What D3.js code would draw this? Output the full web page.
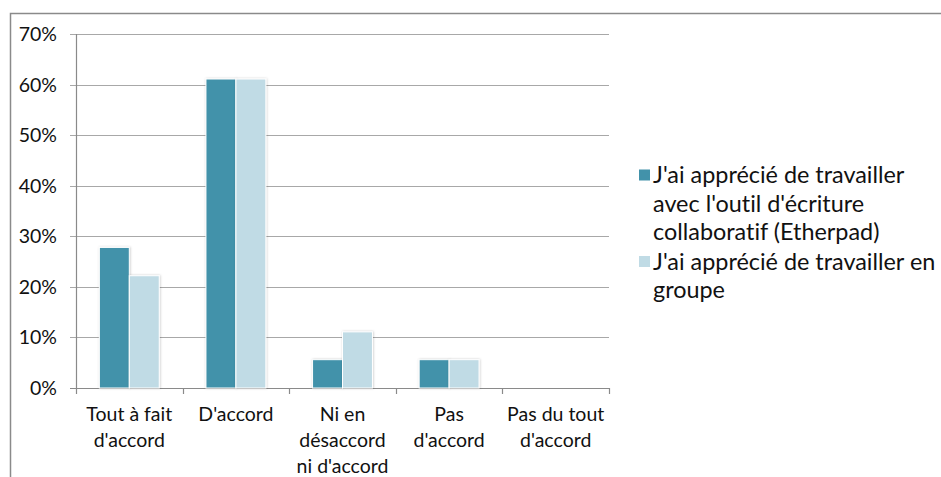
<!DOCTYPE html>
<html>
<head>
<meta charset="utf-8">
<script src="https://cdn.jsdelivr.net/npm/d3@7"></script>
<style>
  html, body { margin: 0; padding: 0; background: #fff; }
  svg { display: block; font-family: Lato, 'Liberation Sans', sans-serif; font-variant-ligatures: none; }
</style>
</head>
<body>
<svg id="chart" width="941" height="477"></svg>
<script>
// categories (x axis), lines split for wrapping
const categories = ["Tout à fait d'accord", "D'accord", "Ni en désaccord ni d'accord", "Pas d'accord", "Pas du tout d'accord"];
const categoryLines = [["Tout à fait", "d'accord"], ["D'accord"], ["Ni en", "désaccord", "ni d'accord"], ["Pas", "d'accord"], ["Pas du tout", "d'accord"]];

// series
const seriesNames = ["J'ai apprécié de travailler avec l'outil d'écriture collaboratif (Etherpad)", "J'ai apprécié de travailler en groupe"];
const seriesLegendLines = [["J'ai apprécié de travailler", "avec l'outil d'écriture", "collaboratif (Etherpad)"], ["J'ai apprécié de travailler en", "groupe"]];
const etherpadValues = [0.278, 0.611, 0.056, 0.056, 0];
const groupeValues = [0.222, 0.611, 0.111, 0.056, 0];
const yTicks = [0, 0.1, 0.2, 0.3, 0.4, 0.5, 0.6, 0.7];

const colors = ['#4292aa', '#c0dbe5'];

const margin = { left: 76, right: 332, top: 34, bottom: 89 };
const width = 941, height = 477;

const svg = d3.select('#chart');

const defs = svg.append('defs');
defs.append('filter')
  .attr('id', 'shadow')
  .attr('x', '-20%').attr('y', '-20%').attr('width', '140%').attr('height', '140%')
  .append('feDropShadow')
  .attr('dx', 0.5).attr('dy', 0).attr('stdDeviation', 1)
  .attr('flood-color', '#000').attr('flood-opacity', 0.22);

// chart border (left + top only visible)
svg.append('path')
  .attr('d', `M10.5,${height} V13.5 H${width}`)
  .attr('fill', 'none')
  .attr('stroke', '#8a8a8a')
  .attr('stroke-width', 1.5);

const x0 = d3.scaleBand()
  .domain(categories)
  .range([margin.left, width - margin.right])
  .paddingInner(0).paddingOuter(0);

const x1 = d3.scaleBand()
  .domain([0, 1])
  .range([0, x0.bandwidth()])
  .paddingInner(0).paddingOuter(0.78);

const y = d3.scaleLinear()
  .domain([0, 0.7])
  .range([height - margin.bottom, margin.top]);

// grid lines
svg.append('g')
  .selectAll('line')
  .data(yTicks)
  .enter()
  .append('line')
  .attr('x1', margin.left - 6)
  .attr('x2', width - margin.right)
  .attr('y1', (d) => Math.round(y(d)) + 0.5)
  .attr('y2', (d) => Math.round(y(d)) + 0.5)
  .attr('stroke', (d) => (d === 0 ? '#8a8a8a' : '#a8a8a8'))
  .attr('stroke-width', 1.2);

// y axis labels
svg.append('g')
  .selectAll('text')
  .data(yTicks)
  .enter()
  .append('text')
  .attr('x', 57)
  .attr('y', (d) => y(d))
  .attr('dy', '0.36em')
  .attr('text-anchor', 'end')
  .attr('fill', '#111')
  .style('font-size', '19.5px')
  .text(d3.format('.0%'));

// y axis line
svg.append('line')
  .attr('x1', margin.left + 0.5).attr('x2', margin.left + 0.5)
  .attr('y1', y(0.7)).attr('y2', y(0) + 6)
  .attr('stroke', '#8a8a8a')
  .attr('stroke-width', 1.2);

// category tick marks
const tickPos = categories.map((c) => x0(c)).concat([x0(categories[categories.length - 1]) + x0.bandwidth()]);
svg.append('g')
  .selectAll('line')
  .data(tickPos.slice(1))
  .enter()
  .append('line')
  .attr('x1', (d) => Math.round(d) + 0.5)
  .attr('x2', (d) => Math.round(d) + 0.5)
  .attr('y1', y(0))
  .attr('y2', y(0) + 6)
  .attr('stroke', '#8a8a8a')
  .attr('stroke-width', 1.2);

// bars
const seriesData = [etherpadValues, groupeValues];
seriesData.forEach((values, si) => {
  svg.append('g')
    .selectAll('rect')
    .data(values.map((v, i) => ({ cat: categories[i], v: v })).filter((d) => d.v > 0))
    .enter()
    .append('rect')
    .attr('x', (d) => x0(d.cat) + x1(si))
    .attr('y', (d) => y(d.v))
    .attr('width', x1.bandwidth())
    .attr('height', (d) => y(0) - y(d.v))
    .attr('fill', colors[si])
    .attr('stroke', '#fff')
    .attr('stroke-width', 1)
    .attr('filter', 'url(#shadow)');
});

// category labels
const catLabels = svg.append('g')
  .selectAll('text')
  .data(categories)
  .enter()
  .append('text')
  .attr('text-anchor', 'middle')
  .attr('fill', '#111')
  .style('font-size', '19.5px')
  .attr('transform', (d) => `translate(${x0(d) + x0.bandwidth() / 2},414)`);
catLabels.each(function (d, i) {
  const el = d3.select(this);
  categoryLines[i].forEach((line, j) => {
    el.append('tspan')
      .attr('x', 0)
      .attr('y', j * 25.8)
      .attr('dy', '0.36em')
      .text(line);
  });
});

// legend
const legendTop = [175, 261.5];
const legend = svg.append('g')
  .selectAll('g')
  .data(seriesNames)
  .enter()
  .append('g')
  .attr('transform', (d, i) => `translate(639,${legendTop[i]})`);

legend.append('rect')
  .attr('x', 0)
  .attr('y', -5.5)
  .attr('width', 11)
  .attr('height', 11)
  .attr('fill', (d, i) => colors[i]);

legend.append('text')
  .attr('fill', '#111')
  .style('font-size', '23.4px')
  .each(function (d, i) {
    const el = d3.select(this);
    seriesLegendLines[i].forEach((line, j) => {
      el.append('tspan')
        .attr('x', 14)
        .attr('y', j * 28.4)
        .attr('dy', '0.36em')
        .text(line);
    });
  });
</script>
</body>
</html>
